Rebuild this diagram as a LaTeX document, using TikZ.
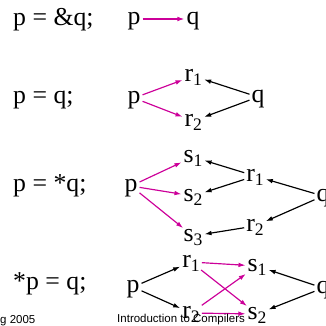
\documentclass[tikz,border=0pt]{standalone}
\usepackage{fontspec}
\setmainfont{Liberation Serif}
\newfontfamily\footfont{Liberation Sans}
\usetikzlibrary{arrows.meta}
\definecolor{ptrpink}{RGB}{204,0,153}
\newcommand{\subidx}[1]{\raisebox{-0.35ex}{\fontsize{15}{15}\selectfont #1}}

\begin{document}
\begin{tikzpicture}[
  every node/.style={font=\fontsize{22}{26}\selectfont},
  var/.style={inner sep=1.6pt, text height=10pt, text depth=0pt},
  stmt/.style={anchor=base west, inner sep=0pt},
  foot/.style={anchor=base west, inner sep=0pt, font=\footfont\fontsize{9.8}{11}\selectfont},
  pts/.style={->, >={Latex[length=6pt,width=4pt]}, line width=1pt},
  newpts/.style={pts, ptrpink}
]
\useasboundingbox (0,0) rectangle (9.75,9.78);

% Statements
\node[stmt] (code1) at (0.39, 9.01) {p = \&q;};
\node[stmt] (code2) at (0.39, 6.66) {p = q;};
\node[stmt] (code3) at (0.39, 4.02) {p = *q;};
\node[stmt] (code4) at (0.39, 1.08) {*p = q;};

% p = &q
\node[var] (p1) at (4.02, 9.21) {p};
\node[var] (q1) at (5.79, 9.21) {q};

% p = q
\node[var] (p2) at (4.02, 6.84) {p};
\node[var] (r21) at (5.80, 7.50) {r\subidx{1}};
\node[var] (r22) at (5.80, 6.15) {r\subidx{2}};
\node[var] (q2) at (7.74, 6.87) {q};

% p = *q
\node[var] (p3) at (3.93, 4.20) {p};
\node[var] (s31) at (5.79, 5.07) {s\subidx{1}};
\node[var] (s32) at (5.79, 3.90) {s\subidx{2}};
\node[var] (s33) at (5.79, 2.70) {s\subidx{3}};
\node[var] (r31) at (7.65, 4.50) {r\subidx{1}};
\node[var] (r32) at (7.65, 3.00) {r\subidx{2}};
\node[var] (q3) at (9.69, 3.90) {q};

% *p = q
\node[var] (p4) at (3.99, 1.17) {p};
\node[var] (r41) at (5.73, 1.92) {r\subidx{1}};
\node[var] (r42) at (5.73, 0.39) {r\subidx{2}};
\node[var] (s41) at (7.71, 1.80) {s\subidx{1}};
\node[var] (s42) at (7.71, 0.36) {s\subidx{2}};
\node[var] (q4) at (9.69, 1.14) {q};

% Draw arrows
\draw[newpts] (p1) -- (q1);

\draw[newpts] (p2) -- (r21);
\draw[newpts] (p2) -- (r22);
\draw[pts] (q2) -- (r21);
\draw[pts] (q2) -- (r22);

\draw[newpts] (p3) -- (s31);
\draw[newpts] (p3) -- (s32);
\draw[newpts] (p3) -- (s33);
\draw[pts] (r31) -- (s31);
\draw[pts] (r31) -- (s32);
\draw[pts] (r32) -- (s33);
\draw[pts] (q3) -- (r31);
\draw[pts] (q3) -- (r32);

\draw[pts] (p4) -- (r41);
\draw[pts] (p4) -- (r42);
\draw[newpts] (r41) -- (s41);
\draw[newpts] (r41) -- (s42);
\draw[newpts] (r42) -- (s41);
\draw[newpts] (r42) -- (s42);
\draw[pts] (q4) -- (s41);
\draw[pts] (q4) -- (s42);

% Footer
\node[foot] (date) at (0, 0.09) {g 2005};
\node[foot] (title) at (3.51, 0.12) {Introduction to Compilers};

\end{tikzpicture}
\end{document}
